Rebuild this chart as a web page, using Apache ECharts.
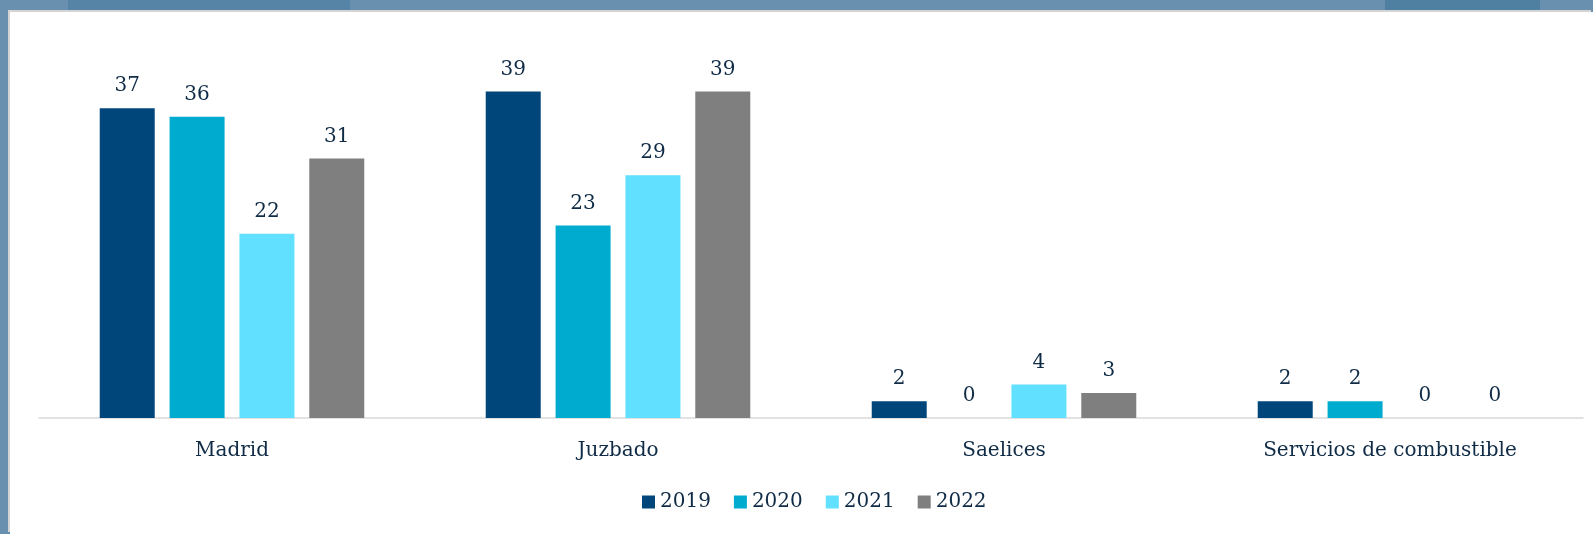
<!DOCTYPE html>
<html>
<head>
<meta charset="utf-8">
<script src="https://cdn.jsdelivr.net/npm/echarts@6/dist/echarts.min.js"></script>
<style>
  html, body { margin: 0; padding: 0; }
  body {
    width: 1593px; height: 534px; overflow: hidden; position: relative;
    background:
      linear-gradient(90deg, #6a90b0 0px, #6a90b0 68px, #5584a6 68px, #5584a6 350px, #6a90b0 350px, #6a90b0 1385px, #4f80a2 1385px, #4f80a2 1540px, #6a90b0 1540px);
  }
  #chart {
    position: absolute; left: 10px; top: 12px; width: 1583px; height: 522px;
    background: #fff; box-shadow: -2px -2px 0 #d4d4d4;
  }
</style>
</head>
<body>
<div id="chart"></div>
<script>
const categories = ["Madrid", "Juzbado", "Saelices", "Servicios de combustible"];
const years = ["2019", "2020", "2021", "2022"];
const values2019 = [37, 39, 2, 2];
const values2020 = [36, 23, 0, 2];
const values2021 = [22, 29, 4, 0];
const values2022 = [31, 39, 3, 0];
const colors = ["#00467a", "#00abd0", "#62e0ff", "#7f7f7f"];

const textColor = "#0f2b46";
const font = "DejaVu Serif";

const chart = echarts.init(document.getElementById("chart"));

function makeSeries(name, data, color) {
  return {
    name: name,
    type: "bar",
    data: data,
    barWidth: 55,
    barGap: "27%",
    itemStyle: { color: color },
    label: {
      show: true,
      position: "top",
      distance: 12,
      color: textColor,
      fontFamily: font,
      fontSize: 20
    }
  };
}

const option = {
  animation: false,
  color: colors,
  grid: { left: 29, right: 10, top: 29.3, bottom: 116 },
  legend: {
    data: years,
    left: 627,
    top: 475,
    icon: "rect",
    itemWidth: 13,
    itemHeight: 13,
    itemGap: 23,
    textStyle: { color: textColor, fontFamily: font, fontSize: 20 }
  },
  xAxis: {
    type: "category",
    data: categories,
    axisLine: { lineStyle: { color: "#d9d9d9", width: 1.5 } },
    axisTick: { show: false },
    axisLabel: {
      color: textColor,
      fontFamily: font,
      fontSize: 20,
      lineHeight: 20,
      margin: 23
    }
  },
  yAxis: {
    type: "value",
    min: 0,
    max: 45,
    show: false,
    splitLine: { show: false }
  },
  series: [
    makeSeries(years[0], values2019, colors[0]),
    makeSeries(years[1], values2020, colors[1]),
    makeSeries(years[2], values2021, colors[2]),
    makeSeries(years[3], values2022, colors[3])
  ]
};

chart.setOption(option);
</script>
</body>
</html>
